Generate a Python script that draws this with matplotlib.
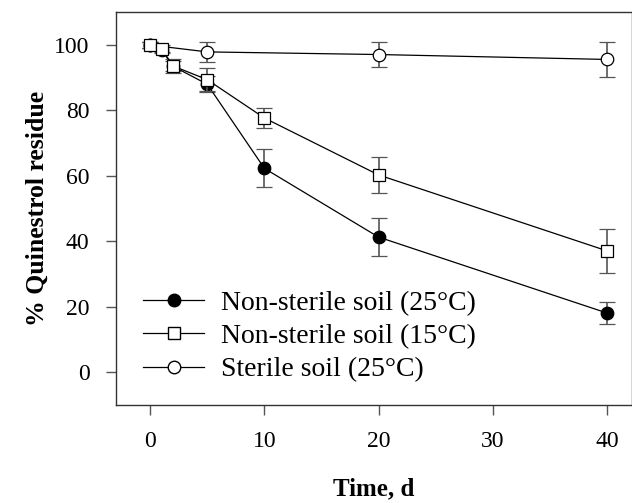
import numpy as np
import matplotlib
matplotlib.use('Agg')
import matplotlib.pyplot as plt
from matplotlib.lines import Line2D

plt.rcParams['font.family'] = ['Liberation Serif', 'DejaVu Serif']

# days sampled
days_ns = [0, 1, 2, 5, 10, 20, 40]
days_st = [0, 5, 20, 40]

# non-sterile soil 25C
ns25 = [100, 98.5, 93.5, 88, 62.3, 41.3, 18.1]
ns25_err = [1, 1, 1.5, 2.5, 5.8, 5.9, 3.5]

# non-sterile soil 15C
ns15 = [100, 98.9, 93.6, 89.4, 77.7, 60.3, 37.1]
ns15_err = [1, 1, 2, 3.5, 3.1, 5.5, 6.7]

# sterile soil 25C
st25 = [100, 97.9, 97.1, 95.6]
st25_err = [1, 3, 3.9, 5.4]

labels = ['Non-sterile soil (25\u00b0C)', 'Non-sterile soil (15\u00b0C)', 'Sterile soil (25\u00b0C)']

fig = plt.figure(figsize=(6.32, 5.03), dpi=100)
ax = fig.add_axes([0.1835, 0.195, 0.8165, 0.7805])

ecol = '#555555'
ax.errorbar(days_st, st25, yerr=st25_err, fmt='-o', color='black', lw=0.9,
            mfc='white', mec='black', mew=0.9, ms=9, ecolor=ecol, elinewidth=1.2,
            capsize=6, capthick=1.2, zorder=3)
ax.errorbar(days_ns, ns15, yerr=ns15_err, fmt='-s', color='black', lw=0.9,
            mfc='white', mec='black', mew=0.9, ms=8, ecolor=ecol, elinewidth=1.2,
            capsize=6, capthick=1.2, zorder=4)
ax.errorbar(days_ns, ns25, yerr=ns25_err, fmt='-o', color='black', lw=0.9,
            mfc='black', mec='black', mew=0.9, ms=9, ecolor=ecol, elinewidth=1.2,
            capsize=6, capthick=1.2, zorder=2)

ax.set_xlim(-3, 42.2)
ax.set_ylim(-10, 110)
ax.set_xticks([0, 10, 20, 30, 40])
ax.set_yticks([0, 20, 40, 60, 80, 100])
ax.tick_params(direction='out', length=7, width=1, color='#555555',
               labelsize=17, pad=12)
for s in ax.spines.values():
    s.set_color('#333333')
    s.set_linewidth(1)

ax.set_xlabel('Time, d', fontsize=18, fontweight='bold', labelpad=18)
ax.set_ylabel('% Quinestrol residue', fontsize=18.5, fontweight='bold', labelpad=4)

handles = [
    Line2D([], [], color='black', lw=0.9, marker='o', ms=9, mfc='black', mec='black'),
    Line2D([], [], color='black', lw=0.9, marker='s', ms=8, mfc='white', mec='black'),
    Line2D([], [], color='black', lw=0.9, marker='o', ms=9, mfc='white', mec='black'),
]
ax.legend(handles, labels, loc='lower left', bbox_to_anchor=(0.02, 0.015),
          frameon=False, fontsize=20, handlelength=2.2, handletextpad=0.6,
          labelspacing=0.28, borderaxespad=0.2)

fig.savefig('out.png', dpi=100)
